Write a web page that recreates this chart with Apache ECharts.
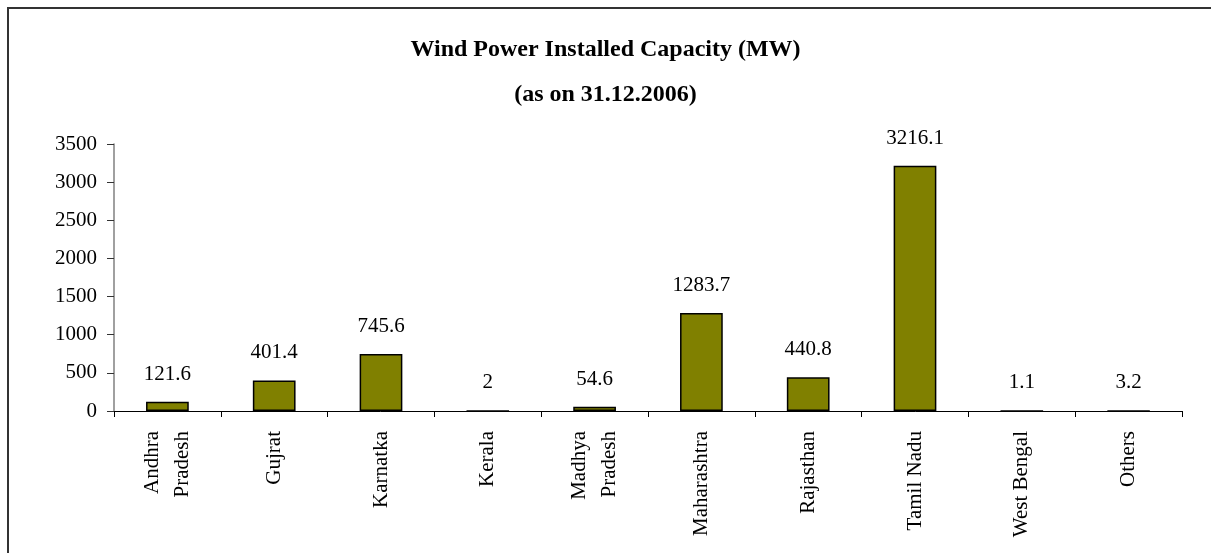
<!DOCTYPE html>
<html>
<head>
<meta charset="utf-8">
<script src="https://cdn.jsdelivr.net/npm/echarts@6/dist/echarts.min.js"></script>
<style>
  html, body { margin: 0; padding: 0; background: #fff; }
  #main { width: 1211px; height: 553px; }
</style>
</head>
<body>
<div id="main"></div>
<script>
// data
var states = ["Andhra\nPradesh", "Gujrat", "Karnatka", "Kerala", "Madhya\nPradesh",
  "Maharashtra", "Rajasthan", "Tamil Nadu", "West Bengal", "Others"];
var capacity = [121.6, 401.4, 745.6, 2, 54.6, 1283.7, 440.8, 3216.1, 1.1, 3.2];
var yTicks = [0, 500, 1000, 1500, 2000, 2500, 3000, 3500];

var serif = "'Liberation Serif', 'DejaVu Serif', serif";
var myChart = echarts.init(document.getElementById("main"));

var option = {
  animation: false,
  backgroundColor: "#fff",
  title: {
    text: "Wind Power Installed Capacity (MW)\n(as on 31.12.2006)",
    left: "center",
    top: 22,
    textStyle: {
      fontFamily: serif,
      fontWeight: "bold",
      fontSize: 24,
      lineHeight: 45,
      color: "#000"
    }
  },
  graphic: [{
    type: "rect",
    shape: { x: 8, y: 8, width: 1240, height: 600 },
    style: { fill: null, stroke: "#333", lineWidth: 2 },
    silent: true
  }],
  grid: { left: 114, right: 29, top: 144, bottom: 142 },
  xAxis: {
    type: "category",
    data: states,
    axisLine: { lineStyle: { color: "#000", width: 1 } },
    axisTick: { show: true, length: 6, lineStyle: { color: "#000" } },
    axisLabel: {
      rotate: 90,
      margin: 20,
      fontFamily: serif,
      fontSize: 21,
      lineHeight: 30,
      color: "#000",
      interval: 0
    }
  },
  yAxis: {
    type: "value",
    min: yTicks[0],
    max: yTicks[yTicks.length - 1],
    interval: 500,
    splitLine: { show: false },
    axisLine: { show: true, lineStyle: { color: "#808080", width: 1.5 } },
    axisTick: { show: true, length: 7, lineStyle: { color: "#333" } },
    axisLabel: {
      margin: 17,
      fontFamily: serif,
      fontSize: 21,
      color: "#000",
      formatter: function (v) { return String(v); }
    }
  },
  series: [{
    type: "bar",
    data: capacity,
    barWidth: "40%",
    itemStyle: { color: "#808000", borderColor: "#000", borderWidth: 1.5 },
    label: {
      show: true,
      position: "top",
      distance: 17,
      fontFamily: serif,
      fontSize: 21,
      color: "#000"
    }
  }]
};

myChart.setOption(option);
</script>
</body>
</html>
